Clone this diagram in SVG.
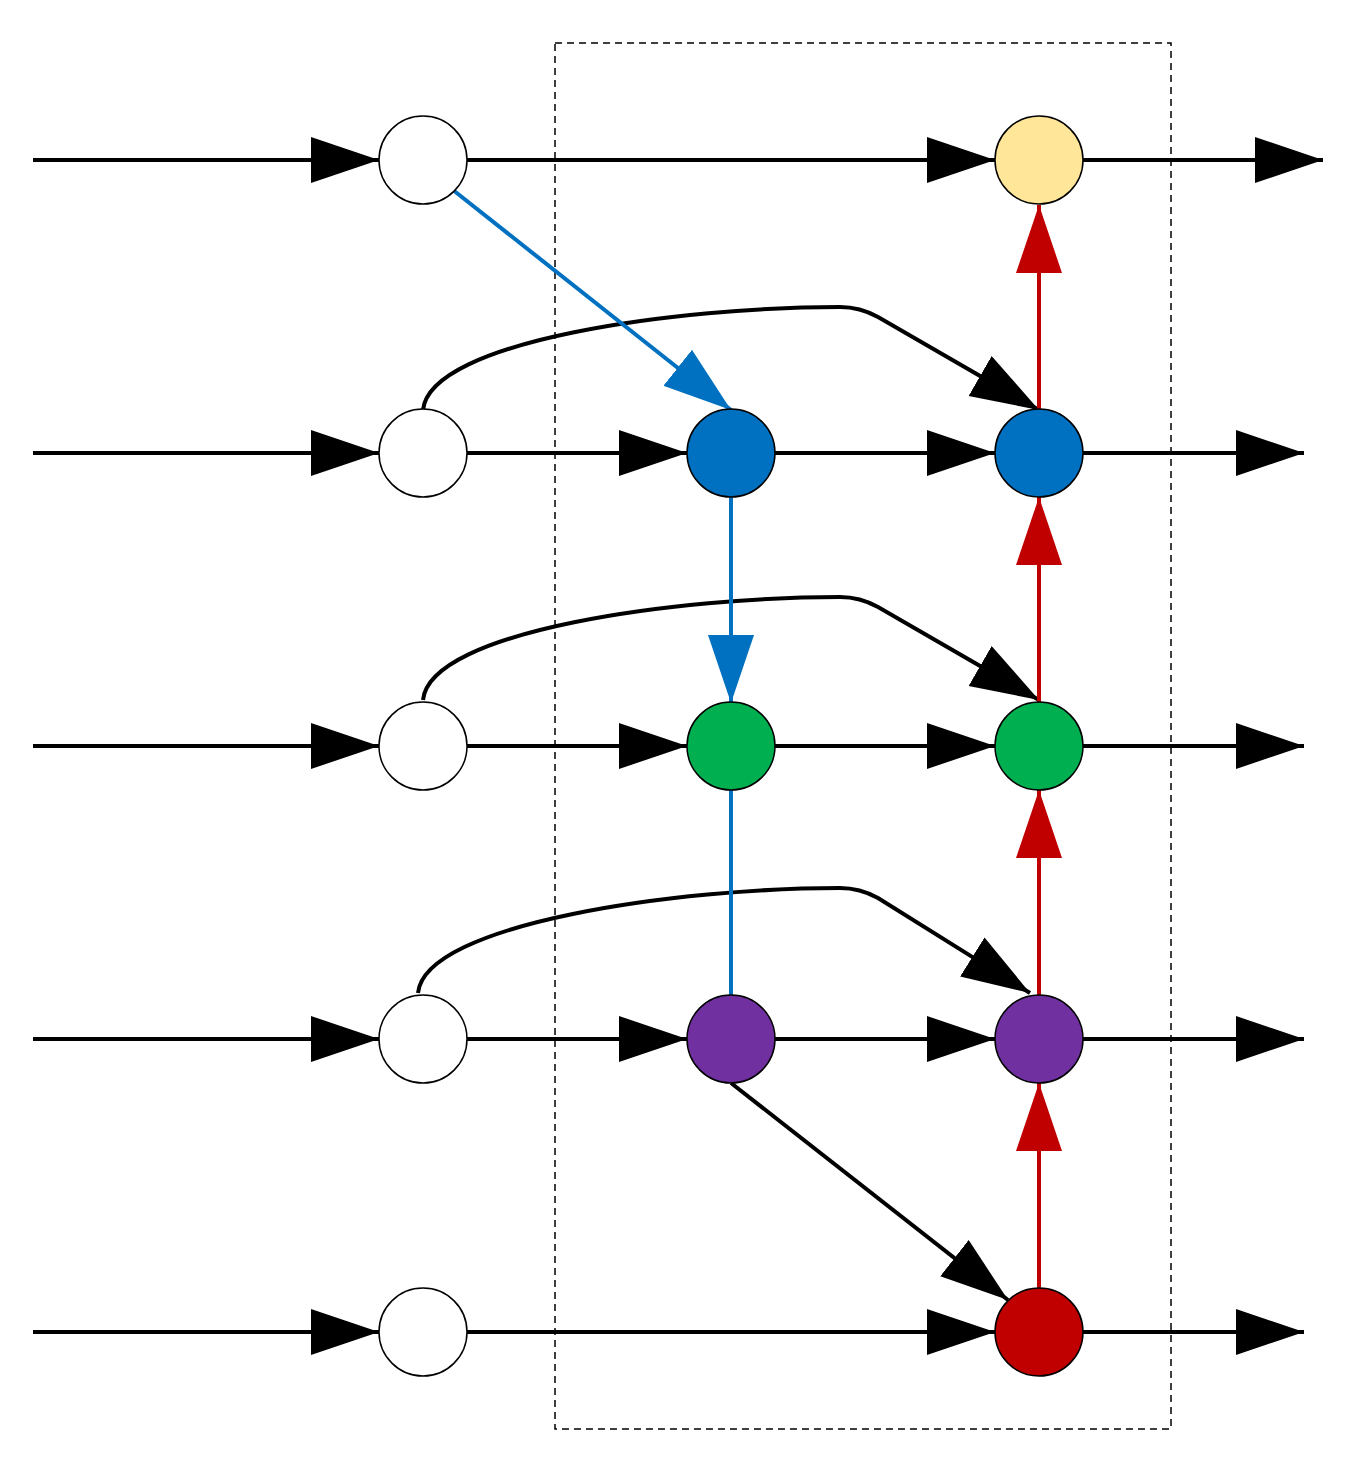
<svg xmlns="http://www.w3.org/2000/svg" width="1350" height="1470" viewBox="0 0 1350 1470">
<style>
.n{stroke:#000;stroke-width:1.5}
.k{stroke:#000;stroke-width:4;fill:none}
.b{stroke:#0070C0;stroke-width:4;fill:none}
.r{stroke:#C00000;stroke-width:4;fill:none}
</style>
<defs>
<marker id="ak" markerUnits="userSpaceOnUse" markerWidth="70" markerHeight="48" refX="68" refY="23" orient="auto"><path d="M0,0 L68,23 L0,46 Z" fill="#000"/></marker>
<marker id="ab" markerUnits="userSpaceOnUse" markerWidth="70" markerHeight="48" refX="68" refY="23" orient="auto"><path d="M0,0 L68,23 L0,46 Z" fill="#0070C0"/></marker>
<marker id="ar" markerUnits="userSpaceOnUse" markerWidth="70" markerHeight="48" refX="68" refY="23" orient="auto"><path d="M0,0 L68,23 L0,46 Z" fill="#C00000"/></marker>
</defs>
<rect x="555" y="43" width="616" height="1386" fill="none" stroke="#000" stroke-width="1.5" stroke-dasharray="7,5"/>
<g id="connectors">
<path class="k" d="M33,160 H379" marker-end="url(#ak)"/>
<path class="k" d="M33,453 H379" marker-end="url(#ak)"/>
<path class="k" d="M33,746 H379" marker-end="url(#ak)"/>
<path class="k" d="M33,1039 H379" marker-end="url(#ak)"/>
<path class="k" d="M33,1332 H379" marker-end="url(#ak)"/>
<path class="k" d="M467,160 H995" marker-end="url(#ak)"/>
<path class="k" d="M1083,160 H1323" marker-end="url(#ak)"/>
<path class="k" d="M467,453 H687" marker-end="url(#ak)"/>
<path class="k" d="M775,453 H995" marker-end="url(#ak)"/>
<path class="k" d="M1083,453 H1304" marker-end="url(#ak)"/>
<path class="k" d="M467,746 H687" marker-end="url(#ak)"/>
<path class="k" d="M775,746 H995" marker-end="url(#ak)"/>
<path class="k" d="M1083,746 H1304" marker-end="url(#ak)"/>
<path class="k" d="M467,1039 H687" marker-end="url(#ak)"/>
<path class="k" d="M775,1039 H995" marker-end="url(#ak)"/>
<path class="k" d="M1083,1039 H1304" marker-end="url(#ak)"/>
<path class="k" d="M467,1332 H995" marker-end="url(#ak)"/>
<path class="k" d="M1083,1332 H1304" marker-end="url(#ak)"/>
<path class="k" d="M423,410 C430,340 680,307 840,307 Q860,307 878,317 L1039,410" marker-end="url(#ak)"/>
<path class="k" d="M423,700 C430,630 680,597 840,597 Q860,597 878,607 L1039,700" marker-end="url(#ak)"/>
<path class="k" d="M418,993 C425,923 680,888 840,888 Q860,888 878,898 L1030,993" marker-end="url(#ak)"/>
<path class="k" d="M731,1083 L1008,1300" marker-end="url(#ak)"/>
<path class="b" d="M453,190 L731,410" marker-end="url(#ab)"/>
<path class="b" d="M731,497 V703" marker-end="url(#ab)"/>
<path class="b" d="M731,790 V996"/>
<path class="r" d="M1039,1288 V1083" marker-end="url(#ar)"/>
<path class="r" d="M1039,996 V790" marker-end="url(#ar)"/>
<path class="r" d="M1039,703 V497" marker-end="url(#ar)"/>
<path class="r" d="M1039,410 V205" marker-end="url(#ar)"/>
</g>
<g id="w1"><circle class="n" cx="423" cy="160" r="44" fill="#fff"/></g>
<g id="w2"><circle class="n" cx="423" cy="453" r="44" fill="#fff"/></g>
<g id="w3"><circle class="n" cx="423" cy="746" r="44" fill="#fff"/></g>
<g id="w4"><circle class="n" cx="423" cy="1039" r="44" fill="#fff"/></g>
<g id="w5"><circle class="n" cx="423" cy="1332" r="44" fill="#fff"/></g>
<g id="b1"><circle class="n" cx="731" cy="453" r="44" fill="#0070C0"/></g>
<g id="g1"><circle class="n" cx="731" cy="746" r="44" fill="#00B050"/></g>
<g id="p1"><circle class="n" cx="731" cy="1039" r="44" fill="#7030A0"/></g>
<g id="y2"><circle class="n" cx="1039" cy="160" r="44" fill="#FFE699"/></g>
<g id="b2"><circle class="n" cx="1039" cy="453" r="44" fill="#0070C0"/></g>
<g id="g2"><circle class="n" cx="1039" cy="746" r="44" fill="#00B050"/></g>
<g id="p2"><circle class="n" cx="1039" cy="1039" r="44" fill="#7030A0"/></g>
<g id="r2"><circle class="n" cx="1039" cy="1332" r="44" fill="#C00000"/></g>
</svg>
